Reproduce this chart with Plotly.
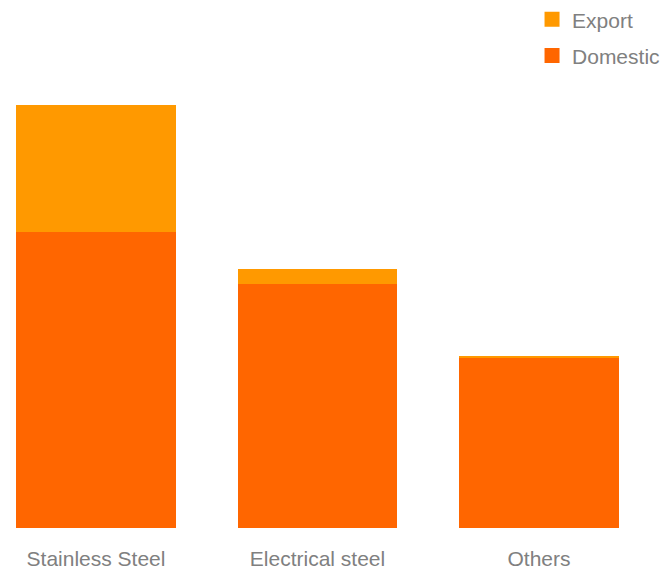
import plotly.graph_objects as go

categories = ["Stainless Steel", "Electrical steel", "Others"]
domestic = [29.6, 24.4, 17.0]
export = [12.7, 1.5, 0.2]

col_dom = "#FF6600"
col_exp = "#FF9900"
grey = "#808080"

fig = go.Figure()
fig.add_trace(go.Bar(x=categories, y=domestic, name="Domestic", marker=dict(color=col_dom, line=dict(width=0)),
                     width=0.72, showlegend=False, hoverinfo="x+y+name"))
fig.add_trace(go.Bar(x=categories, y=export, name="Export", marker=dict(color=col_exp, line=dict(width=0)),
                     width=0.72, showlegend=False, hoverinfo="x+y+name"))
# legend entries
fig.add_trace(go.Scatter(x=[None], y=[None], mode="markers", name="Export", legendgroup="e",
                         marker=dict(symbol="square", size=15, color=col_exp)))
fig.add_trace(go.Scatter(x=[None], y=[None], mode="markers", name="Domestic", legendgroup="d",
                         marker=dict(symbol="square", size=15, color=col_dom)))

fig.update_layout(
    width=663, height=563,
    margin=dict(l=0, r=0, t=0, b=43, autoexpand=False),
    barmode="stack",
    plot_bgcolor="white", paper_bgcolor="white",
    font=dict(family="Liberation Sans, Arial, sans-serif", size=21, color=grey),
    legend=dict(x=0.991, y=1.017, xanchor="right", yanchor="top", traceorder="grouped", tracegroupgap=6,
                font=dict(size=21, color=grey), bgcolor="rgba(0,0,0,0)", itemsizing="trace"),
    xaxis=dict(range=[-0.3973, 2.5959], showgrid=False, zeroline=False, showline=False,
               ticks="", tickfont=dict(size=21, color=grey), ticklabelstandoff=16, fixedrange=True),
    yaxis=dict(range=[0, 52.0], visible=False, fixedrange=True),
)

fig.write_html("out.html")
